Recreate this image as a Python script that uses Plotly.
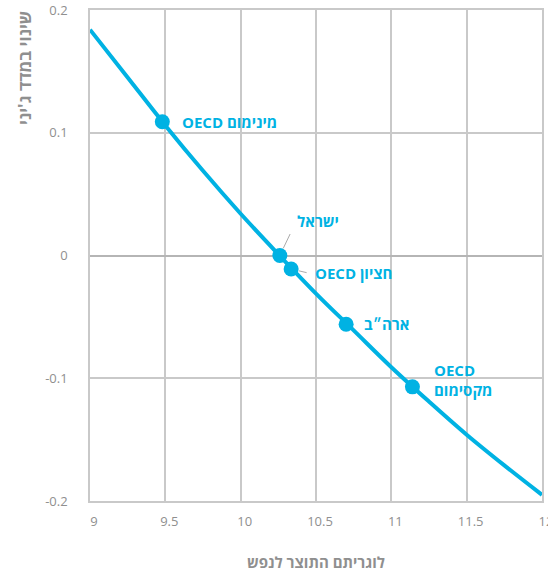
import plotly.graph_objects as go

# curve (log GDP per capita vs change in Gini)
curve_x = [9.0, 9.25, 9.5, 9.75, 10.0, 10.25, 10.5, 10.75, 11.0, 11.25, 11.5, 11.75, 12.0]
curve_y = [0.184, 0.145, 0.106, 0.069, 0.034, 0.001, -0.031, -0.061, -0.091, -0.119, -0.146, -0.171, -0.195]

# highlighted points
point_names = ["OECD מינימום", "ישראל", "OECD חציון", "ארה״ב", "OECD<br>מקסימום"]
point_x = [9.48, 10.26, 10.335, 10.70, 11.14]
point_y = [0.109, 0.0, -0.011, -0.056, -0.107]

x_ticks = [9, 9.5, 10, 10.5, 11, 11.5, 12]
x_tick_text = ["9", "9.5", "10", "10.5", "11", "11.5", "12"]
y_ticks = [-0.2, -0.1, 0, 0.1, 0.2]
y_tick_text = ["-0.2", "-0.1", "0", "0.1", "0.2"]

blue = "#00B2E3"
grid = "#c9c9c9"
grey_text = "#8f8f8f"
font = "Open Sans, Liberation Sans, DejaVu Sans, sans-serif"

fig = go.Figure()

fig.add_trace(go.Scatter(
    x=curve_x, y=curve_y, mode="lines",
    line=dict(color=blue, width=4, shape="spline"),
    hoverinfo="skip", cliponaxis=True,
))

fig.add_trace(go.Scatter(
    x=point_x, y=point_y, mode="markers",
    marker=dict(color=blue, size=15),
    text=point_names, hoverinfo="text", cliponaxis=False,
))

# label offsets in pixels (xshift, yshift) from each point
offsets = [(18, 0), (15, 35), (22, -4), (16, 0), (20, 7)]
for name, x, y, (dx, dy) in zip(point_names, point_x, point_y, offsets):
    fig.add_annotation(
        x=x, y=y, text=name, showarrow=False,
        xanchor="left", yanchor="middle", align="left",
        xshift=dx, yshift=dy,
        font=dict(family=font, size=15, color=blue, weight="bold"),
    )

# leader lines for Israel and OECD median
fig.add_annotation(x=point_x[1], y=point_y[1], text="", showarrow=True,
                   arrowhead=0, arrowwidth=1, arrowcolor="#aaaaaa",
                   ax=11, ay=-23, standoff=8)
fig.add_annotation(x=point_x[2], y=point_y[2], text="", showarrow=True,
                   arrowhead=0, arrowwidth=1, arrowcolor="#aaaaaa",
                   ax=17, ay=4, standoff=8)

# y axis title at the top-left
fig.add_annotation(
    xref="paper", yref="paper", x=0, y=1, xshift=-66, yshift=1,
    text="שינוי במדד ג'יני", textangle=-90, showarrow=False,
    xanchor="center", yanchor="top",
    font=dict(family=font, size=17, color=grey_text, weight="bold"),
)

fig.update_layout(
    width=548, height=576,
    margin=dict(l=90, r=6, t=10, b=75),
    plot_bgcolor="white", paper_bgcolor="white",
    showlegend=False,
    font=dict(family=font, color=grey_text),
)

fig.update_xaxes(
    range=[9, 12], tickvals=x_ticks, ticktext=x_tick_text,
    showgrid=True, gridcolor=grid, gridwidth=1.5,
    showline=True, linecolor=grid, linewidth=1.5, mirror=True,
    zeroline=False, ticks="", ticklabelstandoff=8, ticklabelshift=4,
    ticklabeloverflow="allow",
    tickfont=dict(size=13, color=grey_text), automargin=False,
    title=dict(text="לוגריתם התוצר לנפש", standoff=28,
               font=dict(size=15, color=grey_text, weight="bold")),
)
fig.update_yaxes(
    range=[-0.2, 0.2], tickvals=y_ticks, ticktext=y_tick_text,
    showgrid=True, gridcolor=grid, gridwidth=1.5,
    showline=True, linecolor=grid, linewidth=1.5, mirror=True,
    zeroline=True, zerolinecolor="#b5b5b5", zerolinewidth=2,
    ticks="", ticklabelstandoff=18, ticklabeloverflow="allow",
    tickfont=dict(size=13, color=grey_text), automargin=False,
)

# drop the default page margin so the figure fills the window exactly
fig.write_html("out.html", config={"displayModeBar": False},
               post_script="document.body.style.margin = '0';")
